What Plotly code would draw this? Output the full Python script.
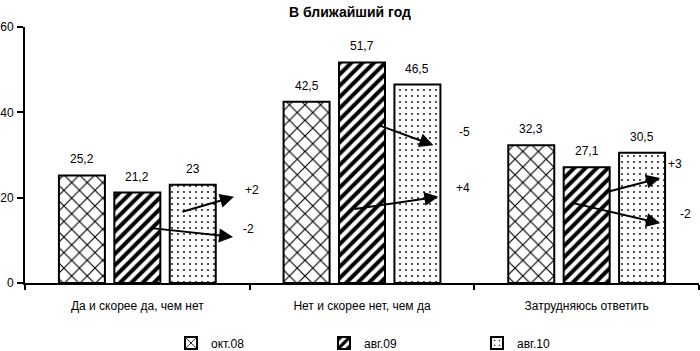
import plotly.graph_objects as go

# ---- data ----
categories = ["Да и скорее да, чем нет", "Нет и скорее нет, чем да", "Затрудняюсь ответить"]
series_names = ["окт.08", "авг.09", "авг.10"]
oct08 = [25.2, 42.5, 32.3]
aug09 = [21.2, 51.7, 27.1]
aug10 = [23.0, 46.5, 30.5]
change_labels = ["+2", "-2", "-5", "+4", "+3", "-2"]
y_ticks = [0, 20, 40, 60]

series_values = [oct08, aug09, aug10]

def fmt(v):
    return f"{v:g}".replace(".", ",")

patterns = [
    dict(shape="x", size=11, solidity=0.2, fgcolor="black", bgcolor="white"),
    dict(shape="/", size=8, solidity=0.5, fgcolor="black", bgcolor="white"),
    dict(shape=".", size=6, solidity=0.07, fgcolor="black", bgcolor="white"),
]

FONT = "Liberation Sans, Arial, sans-serif"

fig = go.Figure()
for name, vals, pat in zip(series_names, series_values, patterns):
    fig.add_trace(go.Bar(
        x=categories, y=vals, name=name,
        marker=dict(color="white", pattern=pat, line=dict(color="black", width=2)),
        hoverinfo="skip",
    ))

annotations = []
# data labels above bars
slot_px = [-55.4, 0, 55.4]
for s, vals in enumerate(series_values):
    for i, v in enumerate(vals):
        annotations.append(dict(
            x=categories[i], y=v, xref="x", yref="y", text=fmt(v),
            showarrow=False, xshift=slot_px[s], yshift=16,
            font=dict(family=FONT, size=12, color="black"),
        ))

# change arrows: (tail, head, label position) in axis units (category index, value)
arrow_geom = [
    ((0.194, 16.6), (0.430, 20.2), (0.510, 21.8)),
    ((0.056, 12.9), (0.426, 10.8), (0.497, 12.7)),
    ((1.073, 37.0), (1.318, 32.3), (1.458, 35.4)),
    ((0.961, 17.3), (1.340, 20.2), (1.449, 22.3)),
    ((2.096, 21.4), (2.327, 24.6), (2.393, 27.9)),
    ((1.933, 18.8), (2.327, 14.0), (2.442, 16.2)),
]
for lab, (tail, head, lpos) in zip(change_labels, arrow_geom):
    annotations.append(dict(
        x=head[0], y=head[1], ax=tail[0], ay=tail[1],
        xref="x", yref="y", axref="x", ayref="y",
        text="", showarrow=True, arrowhead=2, arrowsize=1.4, arrowwidth=2,
        arrowcolor="black", standoff=0, startstandoff=0,
    ))
    annotations.append(dict(
        x=lpos[0], y=lpos[1], xref="x", yref="y", text=lab, showarrow=False,
        font=dict(family=FONT, size=12, color="black"),
    ))

fig.update_layout(
    template="none",
    width=700, height=351,
    margin=dict(l=25, r=1, t=27, b=68, autoexpand=False),
    paper_bgcolor="white", plot_bgcolor="white",
    barmode="group", bargap=0.26, bargroupgap=0.17,
    font=dict(family=FONT, size=12, color="black"),
    title=dict(text="<b>В ближайший год</b>", x=0.5, xref="container", xanchor="center",
               y=1 - 12 / 351, yref="container", yanchor="middle",
               font=dict(family=FONT, size=14, color="black")),
    showlegend=True,
    legend=dict(orientation="h", x=0.2166, xanchor="left", y=-0.234, yanchor="middle",
                entrywidth=108, font=dict(family=FONT, size=12, color="black"),
                bgcolor="rgba(0,0,0,0)"),
    annotations=annotations,
)
fig.update_xaxes(
    type="category", tickson="boundaries", ticks="outside", ticklen=5, tickwidth=2,
    tickcolor="black", showline=True, linecolor="black", linewidth=2,
    showgrid=False, automargin=False, ticklabelstandoff=11, tickfont=dict(family=FONT, size=12),
)
fig.update_yaxes(
    range=[0, 60], tickvals=y_ticks, ticks="outside", ticklen=6, tickwidth=2,
    tickcolor="black", showline=True, linecolor="black", linewidth=2,
    showgrid=False, zeroline=False, automargin=False, ticklabelstandoff=1,
    tickfont=dict(family=FONT, size=12),
)

fig.write_html(
    "out.html",
    config={"displayModeBar": False},
    post_script="document.body.style.margin='0';document.body.style.overflow='hidden';",
)
